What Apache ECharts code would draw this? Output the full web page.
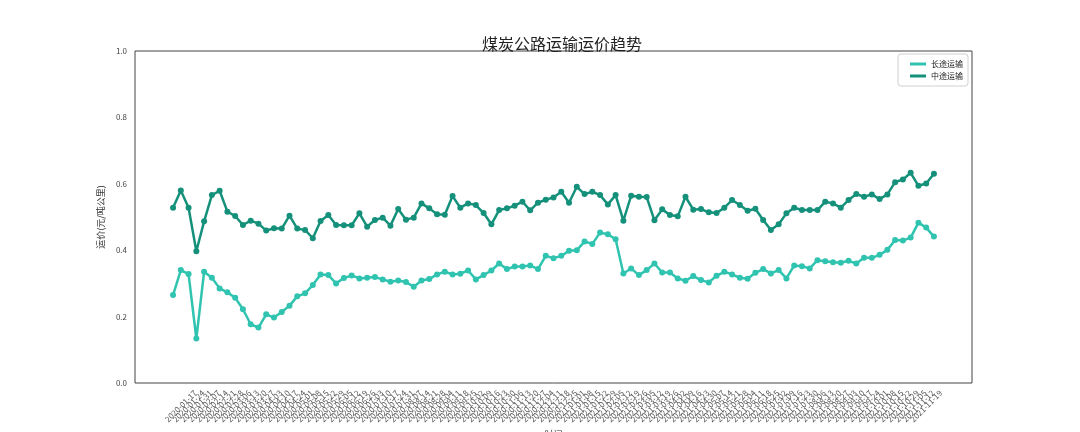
<!DOCTYPE html>
<html>
<head>
<meta charset="utf-8">
<script src="https://cdn.jsdelivr.net/npm/echarts@6/dist/echarts.min.js"></script>
<style>html,body{margin:0;padding:0;background:#fff;}#c{width:1080px;height:432px;}</style>
</head>
<body>
<div id="c"></div>
<script>
const dates = [
'2020-01-10','2020-01-17','2020-01-24','2020-01-31','2020-02-07','2020-02-14','2020-02-21','2020-02-28','2020-03-06','2020-03-13',
'2020-03-20','2020-03-27','2020-04-03','2020-04-10','2020-04-17','2020-04-24','2020-05-01','2020-05-08','2020-05-15','2020-05-22',
'2020-05-29','2020-06-05','2020-06-12','2020-06-19','2020-06-26','2020-07-03','2020-07-10','2020-07-17','2020-07-24','2020-07-31',
'2020-08-07','2020-08-14','2020-08-21','2020-08-28','2020-09-04','2020-09-11','2020-09-18','2020-09-25','2020-10-02','2020-10-09',
'2020-10-16','2020-10-23','2020-10-30','2020-11-06','2020-11-13','2020-11-20','2020-11-27','2020-12-04','2020-12-11','2020-12-18',
'2020-12-25','2021-01-01','2021-01-08','2021-01-15','2021-01-22','2021-01-29','2021-02-05','2021-02-12','2021-02-19','2021-02-26',
'2021-03-05','2021-03-12','2021-03-19','2021-03-26','2021-04-02','2021-04-09','2021-04-16','2021-04-23','2021-04-30','2021-05-07',
'2021-05-14','2021-05-21','2021-05-28','2021-06-04','2021-06-11','2021-06-18','2021-06-25','2021-07-02','2021-07-09','2021-07-16',
'2021-07-23','2021-07-30','2021-08-06','2021-08-13','2021-08-20','2021-08-27','2021-09-03','2021-09-10','2021-09-17','2021-09-24',
'2021-10-01','2021-10-08','2021-10-15','2021-10-22','2021-10-29','2021-11-05','2021-11-12','2021-11-19','2021-11-26'
];
const longHaul = [
0.265,0.340,0.328,0.134,0.335,0.317,0.285,0.273,0.257,0.222,
0.177,0.167,0.207,0.197,0.214,0.233,0.261,0.270,0.295,0.327,
0.325,0.300,0.316,0.324,0.315,0.317,0.319,0.312,0.305,0.309,
0.304,0.290,0.309,0.313,0.327,0.335,0.327,0.329,0.339,0.312,
0.325,0.339,0.360,0.343,0.351,0.351,0.354,0.343,0.383,0.376,
0.383,0.398,0.400,0.426,0.419,0.453,0.448,0.433,0.330,0.345,
0.325,0.340,0.360,0.333,0.333,0.315,0.308,0.322,0.310,0.303,
0.323,0.335,0.327,0.317,0.314,0.332,0.343,0.330,0.340,0.315,
0.354,0.352,0.345,0.370,0.367,0.364,0.362,0.368,0.360,0.377,
0.377,0.386,0.401,0.431,0.429,0.438,0.483,0.468,0.441
];
const midHaul = [
0.528,0.580,0.528,0.397,0.487,0.566,0.579,0.516,0.503,0.476,
0.489,0.480,0.459,0.466,0.465,0.504,0.465,0.461,0.436,0.488,
0.506,0.476,0.475,0.475,0.511,0.471,0.491,0.498,0.474,0.524,
0.492,0.498,0.541,0.526,0.508,0.507,0.563,0.528,0.541,0.536,
0.512,0.478,0.521,0.526,0.534,0.546,0.520,0.543,0.552,0.559,
0.576,0.543,0.591,0.569,0.576,0.566,0.538,0.566,0.489,0.564,
0.561,0.560,0.490,0.523,0.506,0.502,0.561,0.522,0.524,0.514,
0.512,0.528,0.551,0.536,0.519,0.525,0.491,0.461,0.478,0.511,
0.528,0.521,0.521,0.521,0.546,0.541,0.528,0.551,0.569,0.561,
0.568,0.554,0.568,0.605,0.613,0.633,0.594,0.601,0.630
];
const yTicks = [0.0, 0.2, 0.4, 0.6, 0.8, 1.0];

const FONT = "'Noto Sans CJK SC', 'DejaVu Sans', sans-serif";
const idx = dates.map((d, i) => i);
const n = dates.length;
const pad = (n - 1) * 0.05;

const chart = echarts.init(document.getElementById('c'), null, {renderer: 'canvas'});
chart.setOption({
  animation: false,
  backgroundColor: '#ffffff',
  title: {
    text: '煤炭公路运输运价趋势',
    left: 477, top: 31,
    textStyle: {fontFamily: FONT, fontSize: 16, fontWeight: 'normal', color: '#222'}
  },
  legend: {
    orient: 'vertical',
    right: 112, top: 54,
    padding: [5, 5, 5, 12],
    itemGap: 2,
    itemWidth: 16, itemHeight: 3,
    icon: 'rect',
    borderColor: '#d0d0d0', borderWidth: 1, borderRadius: 3,
    textStyle: {fontFamily: FONT, fontSize: 8, color: '#222', lineHeight: 10},
    data: ['长途运输', '中途运输']
  },
  grid: {
    left: 135, right: 108, top: 51, bottom: 49,
    outerBoundsMode: 'none',
    show: true, borderColor: '#444', borderWidth: 1, containLabel: false
  },
  xAxis: {
    type: 'value',
    min: -pad, max: (n - 1) + pad,
    name: '时间',
    nameLocation: 'middle',
    nameGap: 45,
    nameTextStyle: {fontFamily: FONT, fontSize: 9, color: '#333'},
    axisLine: {show: false},
    axisTick: {show: false},
    splitLine: {show: false},
    axisLabel: {
      customValues: idx,
      rotate: 45,
      align: 'center',
      verticalAlign: 'middle',
      margin: 23,
      hideOverlap: false,
      fontFamily: FONT, fontSize: 8, color: '#555',
      formatter: (v) => dates[Math.round(v)] || ''
    }
  },
  yAxis: {
    type: 'value',
    min: 0, max: 1, interval: 0.2,
    name: '运价(元/吨公里)',
    nameLocation: 'middle',
    nameGap: 21,
    nameTextStyle: {fontFamily: FONT, fontSize: 9, color: '#333'},
    axisLine: {show: false},
    axisTick: {show: false},
    splitLine: {show: false},
    axisLabel: {
      margin: 8,
      fontFamily: FONT, fontSize: 8, color: '#444',
      formatter: (v) => v.toFixed(1)
    }
  },
  series: [
    {
      name: '长途运输', type: 'line',
      data: longHaul.map((v, i) => [i, v]),
      symbol: 'circle', symbolSize: 6,
      lineStyle: {width: 2.5, color: '#30c4b0'},
      itemStyle: {color: '#30c4b0'}
    },
    {
      name: '中途运输', type: 'line',
      data: midHaul.map((v, i) => [i, v]),
      symbol: 'circle', symbolSize: 6,
      lineStyle: {width: 2.5, color: '#15917b'},
      itemStyle: {color: '#15917b'}
    }
  ]
});
</script>
</body>
</html>
